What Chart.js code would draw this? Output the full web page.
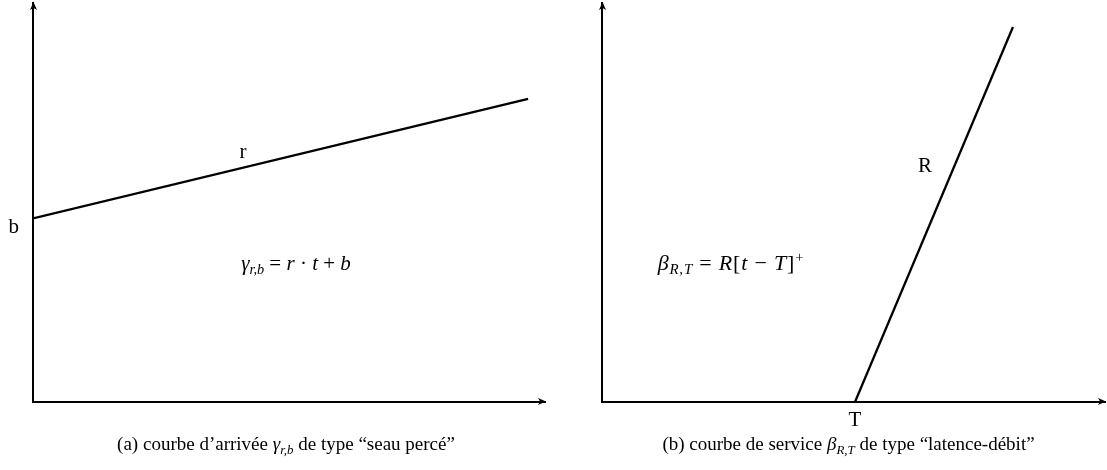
<!DOCTYPE html>
<html><head><meta charset="utf-8">
<script src="https://cdn.jsdelivr.net/npm/chart.js@4"></script>
<style>
html,body{margin:0;padding:0;background:#fff;width:1107px;height:470px;overflow:hidden;font-family:"Liberation Serif","Times New Roman",serif;color:#000;}
#wrapA{position:absolute;left:0;top:0;width:560px;height:470px;}
#wrapB{position:absolute;left:560px;top:0;width:547px;height:470px;}
.cap{position:absolute;font-size:19px;line-height:22px;white-space:nowrap;transform:translate(-50%,-50%);}
.formula{position:absolute;font-size:21px;line-height:24px;white-space:nowrap;transform:translate(-50%,-50%);}
#fB{font-size:22px;letter-spacing:0.8px;}
i{font-style:italic}
sub{font-size:68%;vertical-align:-0.28em;line-height:0}
sup{font-size:68%;vertical-align:0.55em;line-height:0}
</style></head>
<body>
<div id="wrapA"><canvas id="chartA" width="560" height="470"></canvas></div>
<div id="wrapB"><canvas id="chartB" width="547" height="470"></canvas></div>
<div class="formula" id="fA"><i>γ</i><sub><i>r,b</i></sub> = <i>r</i> · <i>t</i> + <i>b</i></div>
<div class="formula" id="fB"><i>β</i><sub><i>R,T</i></sub> = <i>R</i>[<i>t</i> − <i>T</i>]<sup>+</sup></div>
<div class="cap" id="capA">(a) courbe d’arrivée <i>γ</i><sub><i>r,b</i></sub> de type “seau percé”</div>
<div class="cap" id="capB">(b) courbe de service <i>β</i><sub><i>R,T</i></sub> de type “latence-débit”</div>
<script>
// ---- data (axis units 0..10) ----
const arrivalT = [0, 9.67];
const arrivalCurve = [4.6, 7.6];
const serviceT = [5.03, 8.17];
const serviceCurve = [0, 9.4];
const arrivalTickLabels = ['b'];
const serviceTickLabels = ['T'];
const arrivalCurveLabels = ['r'];
const serviceCurveLabels = ['R'];

const FONT = '"Liberation Serif","Times New Roman",serif';

function arrowHead(ctx, x, y, ang) {
  ctx.save();
  ctx.translate(x, y);
  ctx.rotate(ang);
  ctx.beginPath();
  ctx.moveTo(1, 0);
  ctx.lineTo(-7, -3.5);
  ctx.lineTo(-5, 0);
  ctx.lineTo(-7, 3.5);
  ctx.closePath();
  ctx.fill();
  ctx.restore();
}

const arrowPlugin = {
  id: 'axisArrows',
  afterDraw(c) {
    const {ctx, chartArea: a} = c;
    ctx.save();
    ctx.fillStyle = '#000';
    arrowHead(ctx, a.left + 0.5, a.top, -Math.PI / 2);
    arrowHead(ctx, a.right, a.bottom - 0.5, 0);
    ctx.restore();
  }
};

const curveLabelPlugin = {
  id: 'curveLabel',
  afterDatasetsDraw(c, args, opts) {
    const {ctx} = c;
    const meta = c.getDatasetMeta(0);
    const p0 = meta.data[0], p1 = meta.data[1];
    const x = p0.x + (p1.x - p0.x) * opts.frac + opts.dx;
    const y = p0.y + (p1.y - p0.y) * opts.frac + opts.dy;
    ctx.save();
    ctx.fillStyle = '#000';
    ctx.font = '21px ' + FONT;
    ctx.textAlign = 'center';
    ctx.textBaseline = 'middle';
    ctx.fillText(opts.text, x, y);
    ctx.restore();
  }
};

function pts(xs, ys) { return xs.map((x, i) => ({x, y: ys[i]})); }

function zeroPad(s) { s.paddingTop = 0; s.paddingBottom = 0; s.paddingLeft = 0; s.paddingRight = 0; }

function makeChart(id, xs, ys, cfg) {
  return new Chart(document.getElementById(id), {
    type: 'line',
    data: {datasets: [{
      data: pts(xs, ys),
      borderColor: '#000',
      borderWidth: 2.3,
      pointRadius: 0,
      fill: false,
      tension: 0
    }]},
    options: {
      responsive: false,
      animation: false,
      events: [],
      layout: {padding: cfg.padding},
      plugins: {
        legend: {display: false},
        tooltip: {enabled: false},
        curveLabel: cfg.curveLabel
      },
      scales: {
        x: {
          type: 'linear', min: 0, max: 10, position: 'bottom',
          afterBuildTicks: s => { s.ticks = cfg.xTicks.map(v => ({value: v})); },
          afterFit: s => { s.height = cfg.xHeight; zeroPad(s); },
          ticks: {display: cfg.xTicks.length > 0, autoSkip: false, maxRotation: 0, padding: 6,
                  callback: (v, i) => cfg.xTickLabels[i], color: '#000', font: {family: FONT, size: 21}},
          grid: {display: false, drawTicks: false},
          border: {display: true, color: '#000', width: 2}
        },
        y: {
          type: 'linear', min: 0, max: 10, position: 'left',
          afterBuildTicks: s => { s.ticks = cfg.yTicks.map(v => ({value: v})); },
          afterFit: s => { s.width = cfg.yWidth; zeroPad(s); },
          ticks: {display: cfg.yTicks.length > 0, autoSkip: false, padding: 14, labelOffset: 9,
                  callback: (v, i) => cfg.yTickLabels[i], color: '#000', font: {family: FONT, size: 21}},
          grid: {display: false, drawTicks: false},
          border: {display: true, color: '#000', width: 2}
        }
      }
    },
    plugins: [arrowPlugin, curveLabelPlugin]
  });
}

const chartA = makeChart('chartA', arrivalT, arrivalCurve, {
  padding: {top: 3, right: 15, bottom: 0, left: 0},
  xHeight: 68, yWidth: 33,
  xTicks: [], xTickLabels: [],
  yTicks: [arrivalCurve[0]], yTickLabels: arrivalTickLabels,
  curveLabel: {text: arrivalCurveLabels[0], frac: 0.424, dx: 0, dy: -15}
});
const chartB = makeChart('chartB', serviceT, serviceCurve, {
  padding: {top: 3, right: 2, bottom: 0, left: 0},
  xHeight: 68, yWidth: 42,
  xTicks: [serviceT[0]], xTickLabels: serviceTickLabels,
  yTicks: [], yTickLabels: [],
  curveLabel: {text: serviceCurveLabels[0], frac: 0.627, dx: -29, dy: 0}
});

function place(el, x, y) { el.style.left = x + 'px'; el.style.top = y + 'px'; }
const aA = chartA.chartArea, aB = chartB.chartArea;
place(document.getElementById('capA'), (aA.left + aA.right) / 2 - 3, 444);
place(document.getElementById('capB'), 560 + (aB.left + aB.right) / 2 - 5, 444);
place(document.getElementById('fA'), 296, 263);
place(document.getElementById('fB'), 731, 263);
</script>
</body></html>
